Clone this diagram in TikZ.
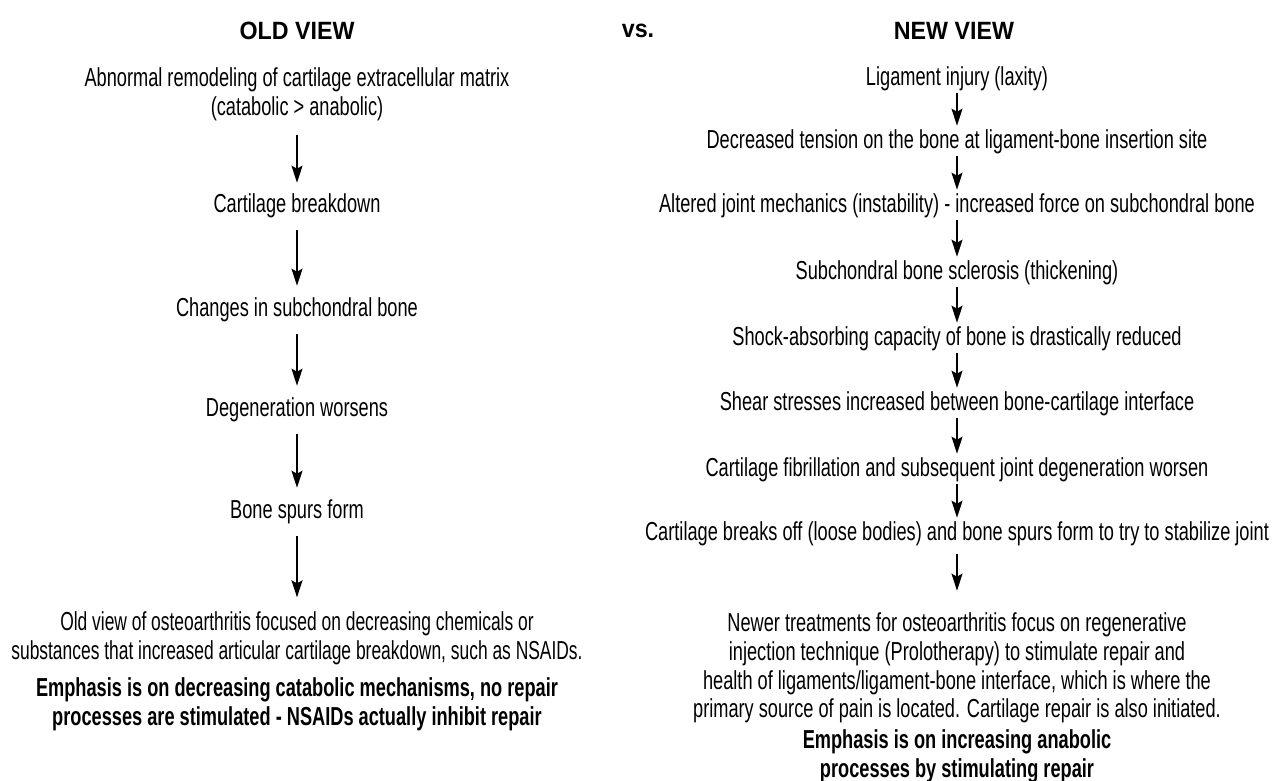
\documentclass[tikz,border=0pt]{standalone}
\usepackage{fontspec}
\setmainfont[FakeStretch=0.70]{Liberation Sans}
\newfontfamily\hdrfont[FakeStretch=0.93]{Liberation Sans}
\newfontfamily\narrowfont[FakeStretch=0.67]{Liberation Sans}
\usetikzlibrary{arrows.meta}
\begin{document}
\begin{tikzpicture}[x=1pt,y=-1pt,
  txt/.style={align=center,inner sep=0pt,font=\fontsize{26}{28.7}\selectfont},
  narrowtxt/.style={align=center,inner sep=0pt,font=\narrowfont\fontsize{26}{28.7}\selectfont},
  emph/.style={align=center,inner sep=0pt,font=\fontsize{26}{28.7}\selectfont\bfseries},
  hdr/.style={inner sep=0pt,font=\hdrfont\fontsize{25}{28}\selectfont\bfseries},
  arr/.style={-{Stealth[width=11pt,length=17pt,inset=3pt]},line width=1.8pt}]
\useasboundingbox (0,0) rectangle (1272,780);
% headers
\node[hdr] (hold) at (297,31) {OLD VIEW};
\node[hdr] (hvs) at (638,31) {vs.};
\node[hdr] (hnew) at (954,31) {NEW VIEW};
% left column
\node[txt] (l1) at (297,94) {Abnormal remodeling of cartilage extracellular matrix\\(catabolic > anabolic)};
\node[txt] (l2) at (297,206) {Cartilage breakdown};
\node[txt] (l3) at (297,310) {Changes in subchondral bone};
\node[txt] (l4) at (297,410) {Degeneration worsens};
\node[txt] (l5) at (297,512) {Bone spurs form};
\node[narrowtxt] (l6) at (297,638) {Old view of osteoarthritis focused on decreasing chemicals or\\substances that increased articular cartilage breakdown, such as NSAIDs.};
\node[emph] (l7) at (297,704) {Emphasis is on decreasing catabolic mechanisms, no repair\\processes are stimulated - NSAIDs actually inhibit repair};
\draw[arr,shorten <=14pt,shorten >=11pt] (l1) -- (l2);
\foreach \a/\b in {l2/l3,l3/l4,l4/l5}
  \draw[arr,shorten <=12pt,shorten >=12pt] (\a) -- (\b);
\draw[arr,shorten <=12pt,shorten >=14pt] (l5) -- (l6);
% right column
\node[txt] (r1) at (957,79) {Ligament injury (laxity)};
\node[txt] (r2) at (957,142) {Decreased tension on the bone at ligament-bone insertion site};
\node[txt] (r3) at (957,206) {Altered joint mechanics (instability) - increased force on subchondral bone};
\node[txt] (r4) at (957,273) {Subchondral bone sclerosis (thickening)};
\node[txt] (r5) at (957,339) {Shock-absorbing capacity of bone is drastically reduced};
\node[txt] (r6) at (957,404) {Shear stresses increased between bone-cartilage interface};
\node[txt] (r7) at (957,470) {Cartilage fibrillation and subsequent joint degeneration worsen};
\node[txt] (r8) at (957,534) {Cartilage breaks off (loose bodies) and bone spurs form to try to stabilize joint};
\node[txt] (r9) at (957,668) {Newer treatments for osteoarthritis focus on regenerative\\injection technique (Prolotherapy) to stimulate repair and\\health of ligaments/ligament-bone interface, which is where the\\primary source of pain is located. Cartilage repair is also initiated.};
\node[emph] (r10) at (957,756) {Emphasis is on increasing anabolic\\processes by stimulating repair};
\foreach \a/\b in {r1/r2,r2/r3,r3/r4,r4/r5,r5/r6,r6/r7,r7/r8}
  \draw[arr,shorten <=2pt,shorten >=4pt] (\a) -- (\b);
\draw[arr,shorten <=8pt,shorten >=22pt] (r8) -- (r9);
\end{tikzpicture}
\end{document}
